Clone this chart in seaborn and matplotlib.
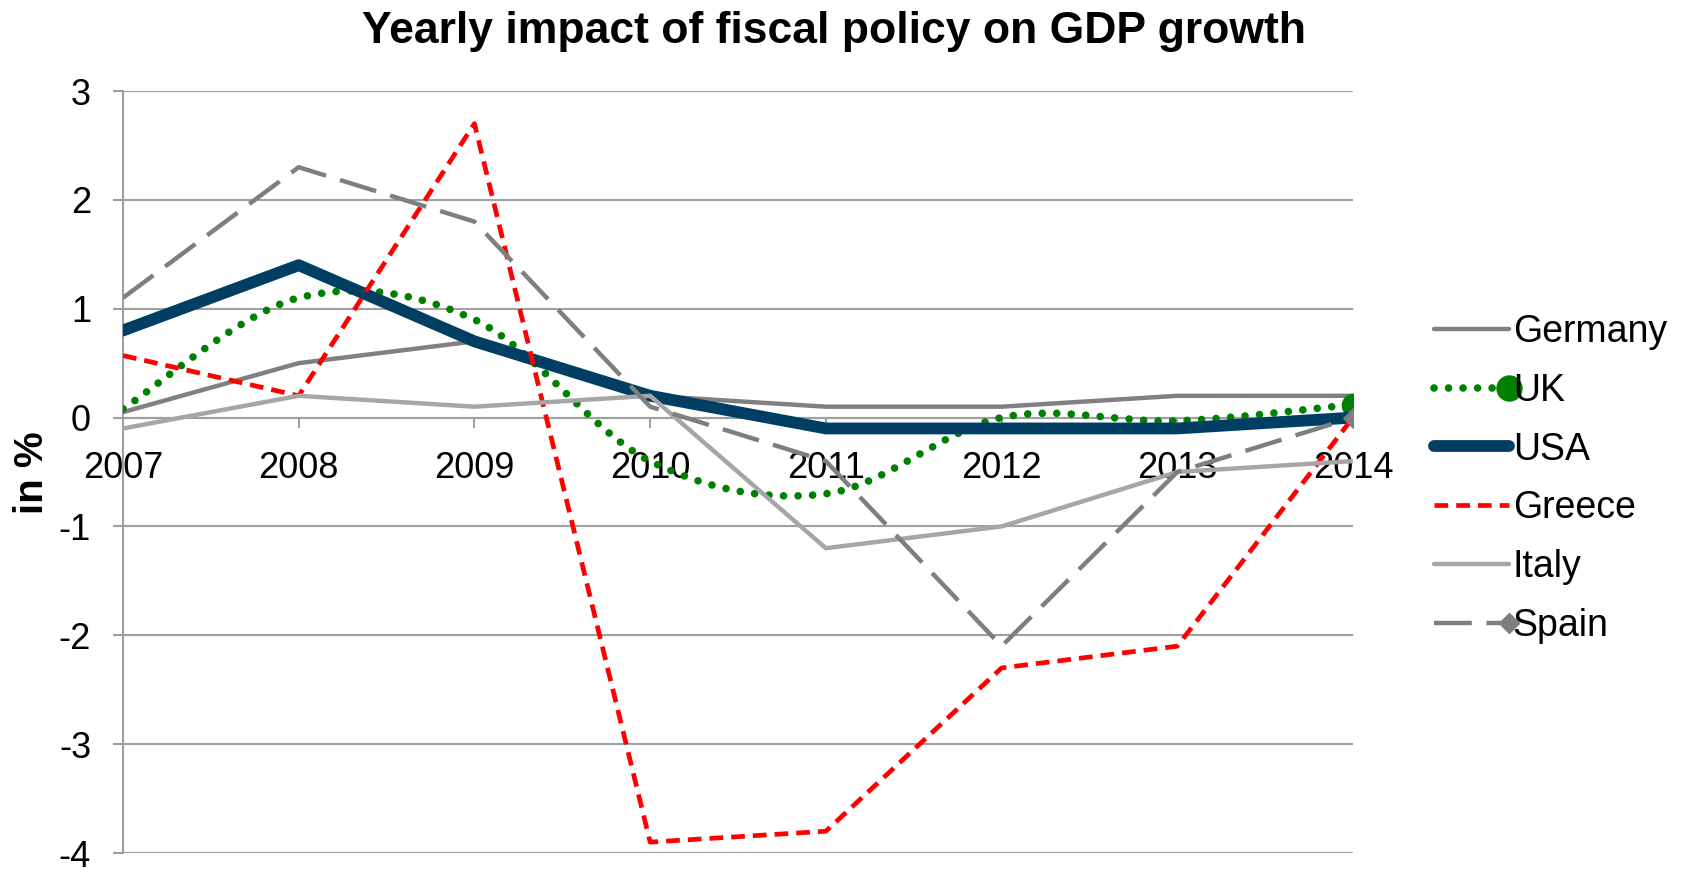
import numpy as np
import pandas as pd
import seaborn as sns
import matplotlib
matplotlib.use("Agg")
import matplotlib.pyplot as plt
from matplotlib.path import Path
from matplotlib.patches import PathPatch
from matplotlib.lines import Line2D
from matplotlib.legend_handler import HandlerBase

years = [2007, 2008, 2009, 2010, 2011, 2012, 2013, 2014]
germany = [0.05, 0.5, 0.7, 0.2, 0.1, 0.1, 0.2, 0.2]
uk = [0.08, 1.1, 0.9, -0.4, -0.7, 0.0, -0.03, 0.12]
usa = [0.8, 1.4, 0.7, 0.2, -0.1, -0.1, -0.1, 0.0]
greece = [0.57, 0.2, 2.7, -3.9, -3.8, -2.3, -2.1, 0.0]
italy = [-0.1, 0.2, 0.1, 0.2, -1.2, -1.0, -0.5, -0.4]
spain = [1.1, 2.3, 1.8, 0.1, -0.4, -2.1, -0.5, 0.0]
series_names = ["Germany", "UK", "USA", "Greece", "Italy", "Spain"]
yticks = [-4, -3, -2, -1, 0, 1, 2, 3]
title = "Yearly impact of fiscal policy on GDP growth"
ylabel = "in %"

sns.set_style("white")
plt.rcParams["font.family"] = ["Liberation Sans", "DejaVu Sans"]
plt.rcParams["text.color"] = "black"
plt.rcParams["xtick.color"] = "black"
plt.rcParams["ytick.color"] = "black"

C_GER = "#808080"
C_UK = "#008000"
C_USA = "#003F63"
C_GRE = "#FF0000"
C_ITA = "#A6A6A6"
C_SPA = "#7F7F7F"
GRID = "#A0A0A0"

fig = plt.figure(figsize=(16.84, 8.72), dpi=100)
ax = fig.add_axes([123/1684, 1-853/872, (1353-123)/1684, (853-91)/872])

ls_gre = (0, (2.9, 1.7))
ls_spa = (0, (8.5, 3.3))
ls_uk = (0, (0.001, 1.9))

sns.lineplot(x=years, y=germany, ax=ax, color=C_GER, lw=3.2, zorder=3)
# UK: smoothed (Excel-style) curve through the data points
P = np.column_stack([np.array(years, float), np.array(uk, float)])
n = len(P)
verts = [tuple(P[0])]
codes = [Path.MOVETO]
for i in range(n - 1):
    p0 = P[i - 1] if i > 0 else P[i]
    p3 = P[i + 2] if i + 2 < n else P[i + 1]
    c1 = P[i] + (P[i + 1] - p0) / 6.0
    c2 = P[i + 1] - (p3 - P[i]) / 6.0
    verts += [tuple(c1), tuple(c2), tuple(P[i + 1])]
    codes += [Path.CURVE4] * 3
patch = PathPatch(Path(verts, codes), facecolor="none", edgecolor=C_UK, lw=5.5,
                  linestyle=ls_uk, capstyle="round", zorder=4)
ax.add_patch(patch)
ax.plot(years[-1:], uk[-1:], "o", color=C_UK, ms=16, zorder=4)
sns.lineplot(x=years, y=usa, ax=ax, color=C_USA, lw=8.5, zorder=5)
sns.lineplot(x=years, y=greece, ax=ax, color=C_GRE, lw=3.4, linestyle=ls_gre, zorder=6)
sns.lineplot(x=years, y=italy, ax=ax, color=C_ITA, lw=3.2, zorder=7)
sns.lineplot(x=years, y=spain, ax=ax, color=C_SPA, lw=3.2, linestyle=ls_spa,
             marker="D", markevery=[len(years)-1], ms=10, mec=C_SPA, zorder=8)

ax.set_xlim(years[0], years[-1])
ax.set_ylim(yticks[0], yticks[-1])
ax.set_xticks(years)
ax.set_xticklabels([str(y) for y in years])
ax.set_yticks(yticks)
ax.set_yticklabels([str(t) for t in yticks])
ax.yaxis.grid(True, color=GRID, lw=1.5)
ax.xaxis.grid(False)
ax.set_axisbelow(True)

for s in ["top", "right"]:
    ax.spines[s].set_visible(False)
ax.spines["bottom"].set_position(("data", 0))
ax.spines["bottom"].set_color(GRID)
ax.spines["bottom"].set_linewidth(1.5)
ax.spines["left"].set_color(GRID)
ax.spines["left"].set_linewidth(1.5)
ax.tick_params(axis="x", direction="out", length=7, width=1.5, color=GRID,
               labelcolor="black", labelsize=26, pad=17, bottom=True)
ax.tick_params(axis="y", direction="out", length=7, width=1.5, color=GRID,
               labelcolor="black", labelsize=26, pad=16, left=True)
ax.set_xlabel("")
ax.set_ylabel("")

fig.text(32/1684, 1-473/872, ylabel, rotation=90, fontsize=29, fontweight="bold",
         ha="center", va="center", color="black")
fig.text(834/1684, 1-31/872, title, fontsize=32, fontweight="bold",
         ha="center", va="center", color="black")


class EndMarkerHandler(HandlerBase):
    def create_artists(self, legend, orig_handle, xdescent, ydescent, width,
                       height, fontsize, trans):
        y = height / 2.0 - ydescent
        x0, x1 = -xdescent, -xdescent + width
        line = Line2D([x0, x1], [y, y])
        line.update_from(orig_handle)
        line.set_marker("None")
        line.set_markevery(None)
        line.set_transform(trans)
        mk = Line2D([x1], [y])
        mk.update_from(orig_handle)
        mk.set_linestyle("None")
        mk.set_markevery(None)
        mk.set_transform(trans)
        return [line, mk]


handles = [
    Line2D([0], [0], color=C_GER, lw=3.2),
    Line2D([0], [0], color=C_UK, lw=5.5, linestyle=ls_uk, dash_capstyle="round",
           marker="o", ms=18),
    Line2D([0], [0], color=C_USA, lw=8.5, solid_capstyle="round"),
    Line2D([0], [0], color=C_GRE, lw=3.4, linestyle=ls_gre),
    Line2D([0], [0], color=C_ITA, lw=3.2),
    Line2D([0], [0], color=C_SPA, lw=3.2, linestyle=ls_spa, marker="D", ms=10),
]
hmap = {handles[1]: EndMarkerHandler(), handles[5]: EndMarkerHandler()}
fig.legend(handles, series_names, loc="center left", handler_map=hmap,
           bbox_to_anchor=(1434/1684, 1-479/872), frameon=False, fontsize=27,
           handlelength=2.0, handletextpad=0.1, labelspacing=0.61,
           borderpad=0, borderaxespad=0)

fig.savefig("out.png", dpi=100)
